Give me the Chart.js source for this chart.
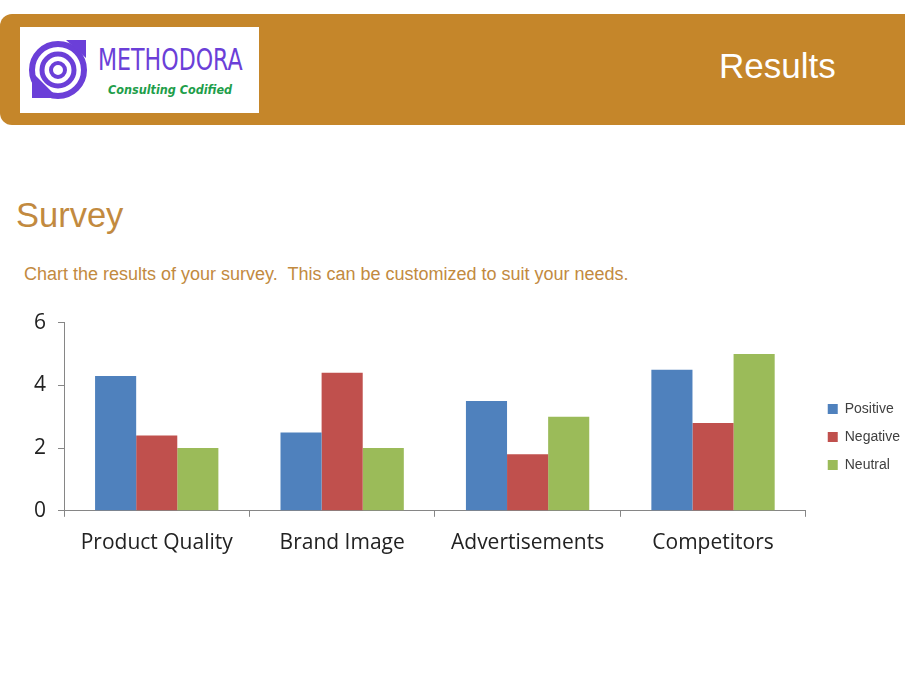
<!DOCTYPE html>
<html>
<head>
<meta charset="utf-8">
<script src="https://cdn.jsdelivr.net/npm/chart.js@4"></script>
<style>
  html, body { margin: 0; padding: 0; background: #fff; }
  body { width: 905px; height: 678px; position: relative; overflow: hidden; font-family: 'Liberation Sans', Arial, sans-serif; }
  .band { position: absolute; left: 0; top: 14px; width: 905px; height: 111px; background: #C5862A; border-radius: 12px 0 0 12px; }
  .logo { position: absolute; left: 20px; top: 27px; width: 239px; height: 86px; background: #fff; }
  .logo svg { position: absolute; left: 8px; top: 11px; }
  .brand { position: absolute; left: 78px; top: 15px; font-family: 'Liberation Sans Narrow', 'DejaVu Sans Condensed', sans-serif; font-size: 30px; color: #6B3FD8; white-space: nowrap; transform: scaleX(0.82); transform-origin: left top; }
  .tag { position: absolute; left: 88px; top: 55px; font-size: 12.5px; font-style: italic; font-weight: bold; color: #1E9E4A; font-family: 'DejaVu Sans Condensed', sans-serif; white-space: nowrap; }
  .results { position: absolute; left: 719px; top: 46px; color: #fff; font-size: 35px; }
  .title { position: absolute; left: 16px; top: 196px; color: #C28A3F; font-size: 34.5px; }
  .sub { position: absolute; left: 24px; top: 264px; color: #C28A3F; font-size: 18px; }
  #wrap { position: absolute; left: 20px; top: 298px; width: 890px; height: 272px; }
</style>
</head>
<body>
<div class="band"></div>
<div class="logo">
  <svg width="62" height="66" viewBox="0 0 62 66">
    <circle cx="30" cy="32" r="26" fill="none" stroke="#6B3FD8" stroke-width="6"/>
    <circle cx="30" cy="32" r="16" fill="none" stroke="#6B3FD8" stroke-width="5"/>
    <circle cx="30" cy="32" r="7" fill="none" stroke="#6B3FD8" stroke-width="4"/>
    <path d="M4 34 L4 60 L30 60 Z" fill="#6B3FD8"/>
    <polygon points="38,2 58,2 58,20" fill="#6B3FD8"/>
  </svg>
  <div class="brand">METHODORA</div>
  <div class="tag">Consulting Codified</div>
</div>
<div class="results">Results</div>
<div class="title">Survey</div>
<div class="sub">Chart the results of your survey.&nbsp; This can be customized to suit your needs.</div>
<div id="wrap"><canvas id="chart"></canvas></div>
<script>
const categories = ['Product Quality', 'Brand Image', 'Advertisements', 'Competitors']
const positive = [4.3, 2.5, 3.5, 4.5]
const negative = [2.4, 4.4, 1.8, 2.8]
const neutral = [2, 2, 3, 5]

Chart.defaults.font.family = "'Open Sans', sans-serif"
Chart.defaults.color = '#333'

// empty layout box that keeps a gap between the plot and the legend
const legendGap = {
  id: 'legendGap',
  beforeInit(chart) {
    Chart.layouts.addBox(chart, {
      position: 'right', weight: 500, fullSize: false, options: {},
      width: 8, height: 0, top: 0, left: 0, right: 0, bottom: 0,
      update(maxWidth, maxHeight) { this.width = 8; this.height = maxHeight },
      isHorizontal() { return false },
      draw() {}
    })
  }
}

new Chart(document.getElementById('chart'), {
  type: 'bar',
  data: {
    labels: categories,
    datasets: [
      { label: 'Positive', data: positive, backgroundColor: '#4F81BD' },
      { label: 'Negative', data: negative, backgroundColor: '#C0504D' },
      { label: 'Neutral', data: neutral, backgroundColor: '#9BBB59' }
    ]
  },
  options: {
    responsive: true,
    maintainAspectRatio: false,
    animation: false,
    datasets: { bar: { categoryPercentage: 0.665, barPercentage: 1 } },
    layout: { padding: { top: 6, right: 0, bottom: 0, left: 2 } },
    plugins: {
      tooltip: { enabled: false },
      legend: {
        position: 'right',
        labels: {
          boxWidth: 10, boxHeight: 10, padding: 14,
          color: '#404040',
          font: { family: "'Liberation Sans', Arial, sans-serif", size: 14 }
        }
      }
    },
    scales: {
      y: {
        min: 0, max: 6,
        ticks: { stepSize: 2, padding: 12, color: '#222', font: { size: 21 } },
        grid: { drawOnChartArea: false, tickLength: 6, color: '#868686' },
        border: { color: '#868686' }
      },
      x: {
        ticks: { padding: 14, color: '#222', font: { size: 21 } },
        grid: { drawOnChartArea: false, tickLength: 6, color: '#868686', offset: true },
        border: { color: '#868686' }
      }
    }
  },
  plugins: [legendGap]
})
</script>
</body>
</html>
